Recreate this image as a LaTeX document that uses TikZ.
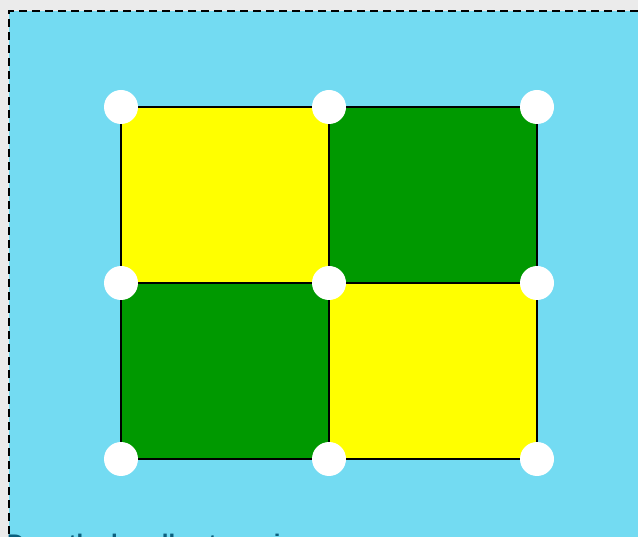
\documentclass[tikz,border=0pt]{standalone}
\usepackage{fontspec}
\setmainfont{Liberation Sans}
\definecolor{pagegray}{RGB}{235,235,235}
\definecolor{panelblue}{RGB}{115,219,242}
\definecolor{cellgreen}{RGB}{0,153,0}
\definecolor{cellyellow}{RGB}{255,255,0}
\definecolor{captionteal}{RGB}{10,95,125}

\begin{document}
\begin{tikzpicture}[
      x=1pt, y=-1pt,
      handle/.style={circle, fill=white, minimum size=34pt, inner sep=0pt},
      gridline/.style={draw=black, line width=2pt},
      frame/.style={draw=black, line width=2.5pt, dash pattern=on 8pt off 5pt},
      every node/.style={font=\fontsize{24}{28}\selectfont\bfseries}]

      \useasboundingbox (0,0) rectangle (638,537);
      \fill[pagegray] (0,0) rectangle (638,537);
      % panel
      \fill[panelblue] (9,11) rectangle (660,560);
      \draw[frame] (9,560) -- (9,11) -- (660,11);

      % grid points
      \foreach \i/\y in {1/107, 2/283, 3/459}{
        \foreach \j/\x in {1/121, 2/329, 3/537}{
          \coordinate (P\i\j) at (\x,\y);
        }
      }
      % cells
      \fill[cellyellow] (P11) rectangle (P22);
      \fill[cellgreen] (P12) rectangle (P23);
      \fill[cellgreen] (P21) rectangle (P32);
      \fill[cellyellow] (P22) rectangle (P33);
      % lines
      \foreach \i in {1,2,3}{
        \draw[gridline] (P\i1) -- (P\i3);
        \draw[gridline] (P1\i) -- (P3\i);
      }
      % handles
      \foreach \i in {1,2,3}{ \foreach \j in {1,2,3}{
        \node[handle] (H\i\j) at (P\i\j) {};
      }}

      \node[anchor=base west, text=captionteal, inner sep=0pt] (caption) at (7,551) {Drag the handles to resize};
    \end{tikzpicture}
\end{document}
